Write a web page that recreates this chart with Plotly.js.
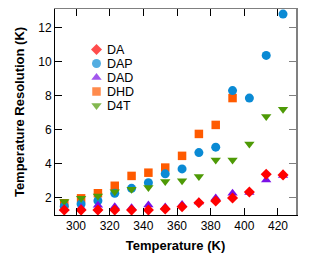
<!DOCTYPE html>
<html>
<head>
<meta charset="utf-8">
<script src="https://cdn.plot.ly/plotly-3.0.1.min.js"></script>
<style>html,body{margin:0;padding:0;background:#fff;}#chart{width:321px;height:264px;}</style>
</head>
<body>
<div id="chart"></div>
<script>
var temperatures = [293, 303, 313, 323, 333, 343, 353, 363, 373, 383, 393, 403, 413, 423];
var seriesNames = ['DA', 'DAP', 'DAD', 'DHD', 'D4T'];
var valuesDA  = [1.27, 1.27, 1.27, 1.27, 1.27, 1.27, 1.33, 1.47, 1.70, 1.80, 1.98, 2.33, 3.38, 3.34];
var valuesDAP = [1.50, 1.63, 1.82, 2.26, 2.55, 2.88, 3.40, 3.69, 4.65, 4.97, 8.30, 7.86, 10.37, 12.80];
var valuesDAD = [1.35, 1.40, 1.55, 1.47, 1.40, 1.57, 1.45, 1.60, 1.75, 1.98, 2.26, 2.30, 3.04, 3.30];
var valuesDHD = [1.67, 1.96, 2.26, 2.70, 3.28, 3.47, 3.77, 4.46, 5.75, 6.28, 7.86];
var valuesD4T = [1.77, 1.96, 2.10, 2.35, 2.50, 2.60, 2.95, 3.00, 3.24, 4.22, 4.22, 5.16, 6.77, 7.20];
var xTicks = [300, 320, 340, 360, 380, 400, 420];
var yTicks = [2, 4, 6, 8, 10, 12];

var colors = ['#ff0000', '#0a8ad4', '#7a10e6', '#ff5a00', '#4e9a06'];
var symbols = ['diamond', 'circle', 'triangle-up', 'square', 'triangle-down'];
var sizes = [8.5, 9, 9, 8.5, 9];
var values = [valuesDA, valuesDAP, valuesDAD, valuesDHD, valuesD4T];
var drawOrder = [3, 1, 4, 2, 0];

var traces = [];
drawOrder.forEach(function (i) {
  traces.push({
    type: 'scatter', mode: 'markers', name: seriesNames[i],
    x: temperatures.slice(0, values[i].length), y: values[i],
    marker: {symbol: symbols[i], color: colors[i], size: sizes[i], line: {width: 0}},
    showlegend: false, hoverinfo: 'x+y'
  });
});
// empty trace to activate the top/right frame axes
traces.push({type: 'scatter', mode: 'markers', x: [], y: [], xaxis: 'x2', yaxis: 'y2', showlegend: false});

// legend built from the series arrays (legend axes in pixel units)
var legX = [], legY = [], annotations = [];
seriesNames.forEach(function (n, i) {
  legX.push(41.5);
  legY.push(40.5 + 14 * i);
  annotations.push({
    xref: 'x3', yref: 'y3', x: 49.5, y: 40.5 + 14 * i, text: n, showarrow: false,
    xanchor: 'left', yanchor: 'middle',
    font: {family: 'Liberation Sans, Arial, sans-serif', size: 12.5, color: '#000'}
  });
});
traces.push({
  type: 'scatter', mode: 'markers', x: legX, y: legY, xaxis: 'x3', yaxis: 'y3',
  marker: {symbol: symbols, color: colors, size: sizes, line: {width: 0}},
  showlegend: false, hoverinfo: 'skip'
});

var tickFont = {family: 'Liberation Sans, Arial, sans-serif', size: 12, color: '#000'};
var titleFont = {family: 'Liberation Sans, Arial, sans-serif', size: 13, color: '#000', weight: 'bold'};

var layout = {
  width: 321, height: 264,
  margin: {l: 55, r: 25, t: 9, b: 49, pad: 0},
  paper_bgcolor: '#fff', plot_bgcolor: '#fff',
  showlegend: false,
  xaxis: {
    range: [287.5, 430.7], tickvals: xTicks, ticktext: xTicks.map(String),
    ticks: 'inside', ticklen: 7, tickwidth: 1, tickcolor: '#000',
    showline: true, linecolor: '#000', linewidth: 1,
    showgrid: false, zeroline: false, tickfont: tickFont,
    title: {text: '<b>Temperature (K)</b>', font: titleFont, standoff: 8}
  },
  yaxis: {
    range: [0.98, 13.1], tickvals: yTicks, ticktext: yTicks.map(String),
    ticks: 'inside', ticklen: 7, tickwidth: 1, tickcolor: '#000',
    showline: true, linecolor: '#000', linewidth: 1,
    showgrid: false, zeroline: false, tickfont: tickFont,
    title: {text: '<b>Temperature Resolution (K)</b>', font: titleFont, standoff: 10}
  },
  xaxis2: {
    overlaying: 'x', side: 'top', matches: 'x', anchor: 'y2',
    tickvals: xTicks, showticklabels: false,
    ticks: 'inside', ticklen: 7, tickwidth: 1, tickcolor: '#000',
    showline: true, linecolor: '#808080', linewidth: 1.5,
    showgrid: false, zeroline: false
  },
  yaxis2: {
    overlaying: 'y', side: 'right', matches: 'y', anchor: 'x2',
    tickvals: yTicks, showticklabels: false,
    ticks: 'inside', ticklen: 7, tickwidth: 1.5, tickcolor: '#808080',
    showline: true, linecolor: '#808080', linewidth: 1.5,
    showgrid: false, zeroline: false
  },
  xaxis3: {overlaying: 'x', range: [0, 241], visible: false, fixedrange: true, anchor: 'y3'},
  yaxis3: {overlaying: 'y', range: [206, 0], visible: false, fixedrange: true, anchor: 'x3'},
  annotations: annotations
};

Plotly.newPlot('chart', traces, layout, {staticPlot: true, displayModeBar: false});
</script>
</body>
</html>
